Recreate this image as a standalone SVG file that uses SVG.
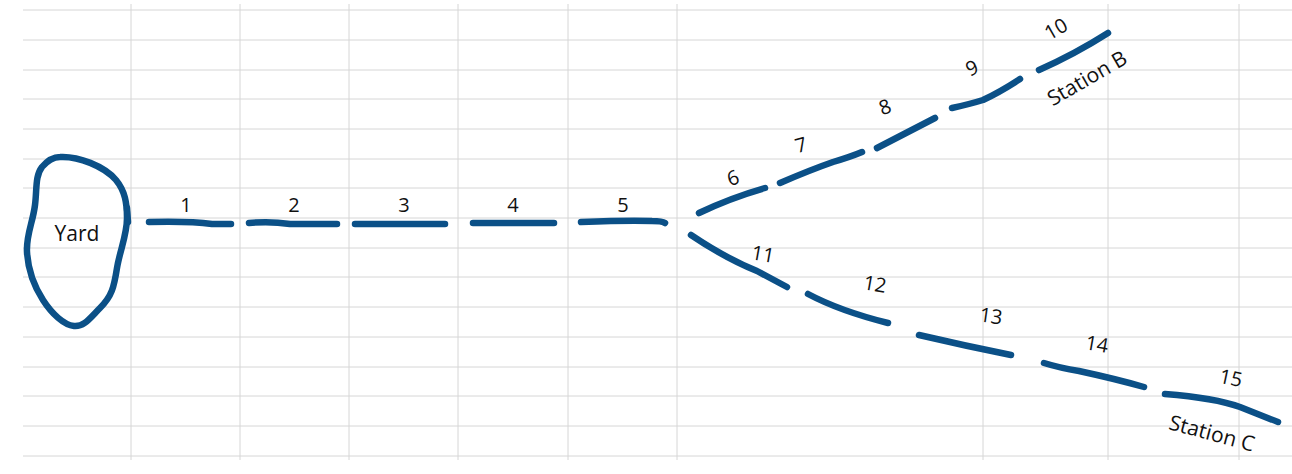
<svg xmlns="http://www.w3.org/2000/svg" width="1292" height="474" viewBox="0 0 1292 474">
<style>
.grid line{stroke:#d6d6d6;stroke-width:1}
.trk{fill:none;stroke:#0b5087;stroke-width:6.5;stroke-linecap:round;stroke-linejoin:round}
.t{font-family:"Open Sans","Liberation Sans",sans-serif;fill:#111111}
.num{font-size:20px;text-anchor:middle}
.lbl{font-size:21px;text-anchor:middle}
</style>
<rect width="1292" height="474" fill="#ffffff"/>
<g class="grid">
<line x1="23" y1="10" x2="1292" y2="10"/>
<line x1="23" y1="40" x2="1292" y2="40"/>
<line x1="23" y1="70" x2="1292" y2="70"/>
<line x1="23" y1="99" x2="1292" y2="99"/>
<line x1="23" y1="129" x2="1292" y2="129"/>
<line x1="23" y1="159" x2="1292" y2="159"/>
<line x1="23" y1="188" x2="1292" y2="188"/>
<line x1="23" y1="218" x2="1292" y2="218"/>
<line x1="23" y1="248" x2="1292" y2="248"/>
<line x1="23" y1="277" x2="1292" y2="277"/>
<line x1="23" y1="307" x2="1292" y2="307"/>
<line x1="23" y1="337" x2="1292" y2="337"/>
<line x1="23" y1="367" x2="1292" y2="367"/>
<line x1="23" y1="396" x2="1292" y2="396"/>
<line x1="23" y1="426" x2="1292" y2="426"/>
<line x1="23" y1="456" x2="1292" y2="456"/>
<line x1="131" y1="4" x2="131" y2="460"/>
<line x1="240" y1="4" x2="240" y2="460"/>
<line x1="349" y1="4" x2="349" y2="460"/>
<line x1="458" y1="4" x2="458" y2="460"/>
<line x1="568" y1="4" x2="568" y2="460"/>
<line x1="677" y1="4" x2="677" y2="460"/>
<line x1="983" y1="4" x2="983" y2="460"/>
<line x1="1108" y1="4" x2="1108" y2="460"/>
<line x1="1239" y1="4" x2="1239" y2="460"/>
</g>
<g id="yard">
<path class="trk" d="M60,157 C78,156 104,166 116,180 C125,191 127,203 127,218 C127,235 120,250 117,268 C114,287 112,296 100,308 C90,318 84,327 74,326 C64,325 52,314 43,300 C34,286 28,270 27,252 C26,235 33,222 35,205 C37,190 35,176 42,167 C48,160 53,157 60,157 Z"/>
<path class="trk" d="M127,208 L128,222"/>
<text class="t lbl" x="77" y="241">Yard</text>
</g>
<g id="connectors">
<path class="trk" d="M149,222 Q190,221 212,224 L231,224"/>
<path class="trk" d="M249,223 Q270,221 290,224 L337,224"/>
<path class="trk" d="M355,224 L445,224"/>
<path class="trk" d="M473,223 L554,223"/>
<path class="trk" d="M581,222 Q630,220 652,221 Q662,221 665,223"/>
<path class="trk" d="M699,213 Q730,198 765,188"/>
<path class="trk" d="M780,183 Q810,170 833,162 Q850,157 862,152"/>
<path class="trk" d="M877,148 L935,118"/>
<path class="trk" d="M952,108 Q970,104 983,100 Q1000,92 1020,79"/>
<path class="trk" d="M1039,70 Q1075,54 1108,33"/>
<path class="trk" d="M691,235 Q725,258 757,271 L787,287"/>
<path class="trk" d="M808,294 Q840,311 888,323"/>
<path class="trk" d="M919,335 Q966,346 1011,355"/>
<path class="trk" d="M1044,363 Q1060,368 1079,371 Q1116,379 1144,387"/>
<path class="trk" d="M1165,394 Q1215,398 1240,407 Q1260,415 1278,422"/>
</g>
<g id="segment-labels" class="t num">
<text x="186" y="212">1</text>
<text x="294" y="212">2</text>
<text x="404" y="212">3</text>
<text x="513" y="212">4</text>
<text x="623" y="212">5</text>
<text transform="translate(733,178) rotate(-20)" y="7">6</text>
<text transform="translate(801,145) rotate(-15)" y="7">7</text>
<text transform="translate(885,107) rotate(-20)" y="7">8</text>
<text transform="translate(972,68) rotate(-25)" y="7">9</text>
<text transform="translate(1056,29) rotate(-30)" y="7">10</text>
<text transform="translate(763,254) rotate(10)" y="7">11</text>
<text transform="translate(875,284) rotate(10)" y="7">12</text>
<text transform="translate(991,316) rotate(8)" y="7">13</text>
<text transform="translate(1097,344) rotate(10)" y="7">14</text>
<text transform="translate(1231,378) rotate(12)" y="7">15</text>
</g>
<g id="station-b">
<text class="t lbl" transform="translate(1087,78) rotate(-30)" y="7.5">Station B</text>
</g>
<g id="station-c">
<text class="t lbl" transform="translate(1212,433) rotate(15)" y="7.5">Station C</text>
</g>
</svg>
